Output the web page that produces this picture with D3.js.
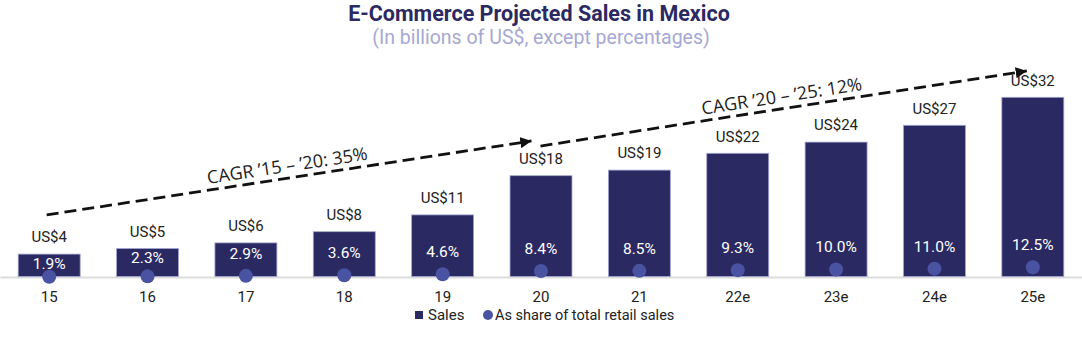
<!DOCTYPE html>
<html>
<head>
<meta charset="utf-8">
<script src="https://cdn.jsdelivr.net/npm/d3@7"></script>
<style>
  html, body { margin: 0; padding: 0; background: #fff; }
  svg { display: block; font-family: Roboto, "Noto Sans", sans-serif; }
</style>
</head>
<body>
<svg id="chart" width="1082" height="342"></svg>
<script>
// ---- data ----
const years = ["15", "16", "17", "18", "19", "20", "21", "22e", "23e", "24e", "25e"];
const sales = [4, 5, 6, 8, 11, 18, 19, 22, 24, 27, 32];
const share = [1.9, 2.3, 2.9, 3.6, 4.6, 8.4, 8.5, 9.3, 10.0, 11.0, 12.5];
const salesLabels = ["US$4", "US$5", "US$6", "US$8", "US$11", "US$18", "US$19", "US$22", "US$24", "US$27", "US$32"];
const shareLabels = ["1.9%", "2.3%", "2.9%", "3.6%", "4.6%", "8.4%", "8.5%", "9.3%", "10.0%", "11.0%", "12.5%"];
const cagrFrom = ["15", "20"];
const cagrTo = ["20", "25e"];
const cagrStartValue = [11, 23.3];
const cagrEndValue = [24.2, 36.7];
const cagrLabels = ["CAGR \u201915 \u2013 \u201920: 35%", "CAGR \u201920 \u2013 \u201925: 12%"];
const titleText = "E-Commerce Projected Sales in Mexico";
const subtitleText = "(In billions of US$, except percentages)";
const legendLabels = ["Sales", "As share of total retail sales"];

// ---- style ----
const W = 1082, H = 342;
const barColor = "#2b2962";
const barStroke = "#a3a5d3";
const dotColor = "#4a52a2";
const baseline = 276.5;

const svg = d3.select("#chart");

const x = d3.scaleBand().domain(years).range([0, W]).paddingInner(0.37).paddingOuter(0.185);
const y = d3.scaleLinear().domain([0, 40]).range([baseline, baseline - 224]);
const y2 = d3.scaleLinear().domain([0, 100]).range([baseline + 1.9, baseline + 1.9 - 88.7]);

// title
svg.append("text").attr("x", W / 2 - 2).attr("y", 20.5).attr("text-anchor", "middle")
  .attr("font-size", 21.5).attr("font-weight", 700).attr("fill", barColor).text(titleText);
svg.append("text").attr("x", W / 2).attr("y", 44).attr("text-anchor", "middle")
  .attr("font-size", 19.5).attr("fill", "#a6a8d4").text(subtitleText);

const rows = years.map((yr, i) => ({ yr, s: sales[i], p: share[i], sl: salesLabels[i], pl: shareLabels[i] }));

// axis
const axis = svg.append("g").attr("transform", `translate(0,${baseline + 0.5})`)
  .call(d3.axisBottom(x).tickSize(0).tickSizeOuter(0).tickPadding(14));
axis.select(".domain").attr("stroke", "#dcdcdc").attr("stroke-width", 2);
axis.selectAll(".tick text").attr("font-size", 15).attr("fill", "#222").attr("font-family", "Roboto, sans-serif");

// bars
svg.append("g").selectAll("rect").data(rows).join("rect")
  .attr("x", d => x(d.yr)).attr("width", x.bandwidth())
  .attr("y", d => y(d.s)).attr("height", d => baseline - y(d.s))
  .attr("fill", barColor).attr("stroke", barStroke).attr("stroke-width", 0.8);

// sales labels
svg.append("g").selectAll("text").data(rows).join("text")
  .attr("x", d => x(d.yr) + x.bandwidth() / 2).attr("y", d => y(d.s) - 17)
  .attr("dy", "0.35em").attr("text-anchor", "middle").attr("font-size", 15).attr("fill", "#222")
  .text(d => d.sl);

// dots
svg.append("g").selectAll("circle").data(rows).join("circle")
  .attr("cx", d => x(d.yr) + x.bandwidth() / 2).attr("cy", d => y2(d.p)).attr("r", 7)
  .attr("fill", dotColor);

// share labels
svg.append("g").selectAll("text").data(rows).join("text")
  .attr("x", d => x(d.yr) + x.bandwidth() / 2)
  .attr("y", d => Math.max(y2(d.p) - 22.5, y(d.s) + 9.5))
  .attr("dy", "0.35em").attr("text-anchor", "middle").attr("font-size", 15.5).attr("fill", "#fff")
  .text(d => d.pl);

// CAGR arrows
const defs = svg.append("defs");
defs.append("marker").attr("id", "arrow").attr("viewBox", "0 0 10 10")
  .attr("refX", 10).attr("refY", 5).attr("markerWidth", 4).attr("markerHeight", 4)
  .attr("markerUnits", "strokeWidth").attr("orient", "auto")
  .append("path").attr("d", "M0,0 L10,5 L0,10 z").attr("fill", "#111");

cagrLabels.forEach((lab, i) => {
  const x0 = x(cagrFrom[i]) + x.bandwidth() / 2 - 2.5 + (i === 1 ? 2 : 0);
  const x1 = x(cagrTo[i]) + x.bandwidth() / 2 - (i === 0 ? 9.5 : 6);
  const y0 = y(cagrStartValue[i]), y1 = y(cagrEndValue[i]);
  svg.append("line").attr("x1", x0).attr("y1", y0).attr("x2", x1).attr("y2", y1)
    .attr("stroke", "#111").attr("stroke-width", 2.8).attr("stroke-dasharray", "12,6")
    .attr("marker-end", "url(#arrow)");
  const ang = Math.atan2(y1 - y0, x1 - x0) * 180 / Math.PI;
  const mx = (x0 + x1) / 2, my = (y0 + y1) / 2;
  svg.append("text").attr("transform", `translate(${mx},${my}) rotate(${ang}) translate(0,-12.5)`)
    .attr("dy", "0.35em").attr("text-anchor", "middle")
    .attr("font-family", "'Open Sans', Roboto, sans-serif")
    .attr("font-size", 18).attr("fill", "#222")
    .text(lab);
});

// legend
const lg = svg.append("g");
lg.append("rect").attr("x", 415).attr("y", 311).attr("width", 8).attr("height", 8).attr("fill", barColor);
lg.append("text").attr("x", 428).attr("y", 315).attr("dy", "0.35em").attr("font-size", 15).attr("fill", "#222").text(legendLabels[0]);
lg.append("circle").attr("cx", 488).attr("cy", 315).attr("r", 5).attr("fill", dotColor);
lg.append("text").attr("x", 495).attr("y", 315).attr("dy", "0.35em").attr("font-size", 14.5).attr("fill", "#222").text(legendLabels[1]);
</script>
</body>
</html>
